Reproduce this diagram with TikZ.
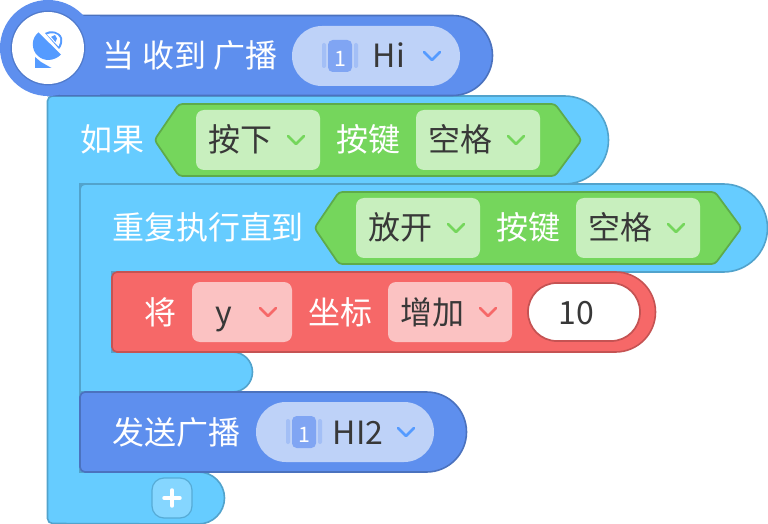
\documentclass[tikz,border=0pt]{standalone}
\usepackage{fontspec}
\setmainfont{Noto Sans CJK SC}
\definecolor{blueF}{HTML}{5E8FEE}
\definecolor{blueD}{HTML}{4B72BE}
\definecolor{blueL}{HTML}{BED2F8}
\definecolor{blueM}{HTML}{80A5F3}
\definecolor{blueB}{HTML}{A3BFF6}
\definecolor{icon}{HTML}{559BFF}
\definecolor{cyanF}{HTML}{66CCFF}
\definecolor{cyanD}{HTML}{52A3CC}
\definecolor{cyanL}{HTML}{85D6FF}
\definecolor{greenF}{HTML}{75D65C}
\definecolor{greenD}{HTML}{5EAB4A}
\definecolor{greenL}{HTML}{C8EFBE}
\definecolor{redF}{HTML}{F66868}
\definecolor{redD}{HTML}{C55353}
\definecolor{redL}{HTML}{FBC2C2}
\definecolor{ink}{HTML}{383838}
\tikzset{
  x=0.75pt,y=-0.75pt,
  wtext/.style={text=white,font=\fontsize{24}{24}\selectfont,inner sep=0pt,anchor=center,text height=21pt,text depth=3pt},
  dtext/.style={text=ink,font=\fontsize{24}{24}\selectfont,inner sep=0pt,anchor=center,text height=21pt,text depth=3pt},
  blk/.style={line width=1.2pt},
  hexa/.style={line width=1.3pt,draw=greenD,fill=greenF,rounded corners=2.5pt},
  chev/.style={line width=2pt,line cap=round,line join=round},
}
\newcommand{\fieldbox}[5]{\fill[#5,rounded corners=6pt] (#1,#2) rectangle (#3,#4);}
\newcommand{\chevron}[3]{\draw[chev,#3] (#1-8,#2-4) -- (#1,#2+4) -- (#1+8,#2-4);}
\newcommand{\broadcast}[2]{%
  \fill[blueB,rounded corners=1.5pt] (#1-18,#2-13) rectangle (#1-14,#2+12);
  \fill[blueB,rounded corners=1.5pt] (#1+14,#2-13) rectangle (#1+18,#2+12);
  \fill[blueM,rounded corners=3.5pt] (#1-12,#2-16) rectangle (#1+12,#2+16);
  \node[text=white,inner sep=0pt,font=\fontsize{16}{16}\selectfont] at (#1,#2+2.5) {1};
}
\begin{document}
\begin{tikzpicture}
\useasboundingbox (0,0) rectangle (768,524);
% outer C block
\draw[blk,fill=cyanF,draw=cyanD]
  (52.5,96) -- (564.5,96) arc[start angle=-90,end angle=90,radius=44]
  -- (80,184) -- (80,472) -- (198.5,472)
  arc[start angle=-90,end angle=90,radius=26] -- (52.5,523.5)
  arc[start angle=90,end angle=180,radius=5] -- (47.5,101)
  arc[start angle=180,end angle=270,radius=5] -- cycle;
% inner C block
\draw[blk,fill=cyanF,draw=cyanD]
  (85,184) -- (723.5,184) arc[start angle=-90,end angle=90,radius=44]
  -- (112,272) -- (112,352) -- (232.5,352)
  arc[start angle=-90,end angle=90,radius=20] -- (80,392) -- (80,189)
  arc[start angle=180,end angle=270,radius=5] -- cycle;
% hat block
\draw[blk,fill=blueF,draw=blueD]
  (80,15.5) -- (452.5,15.5) arc[start angle=-90,end angle=90,radius=40] -- (48,95.5) -- (48,48) -- cycle;
\fill[blueF] (48,48) circle[radius=48];
\fill[blueF] (60,16.5) rectangle (100,95);
\draw[blk,draw=blueD!70!blueF] (48,48) circle[radius=36.6];
\fill[white] (48,48) circle[radius=36];
% icon
\fill[icon] (35,57) -- (35,68) -- (51.5,68) -- (41,62) -- cycle;
\fill[icon] (38.5,32.5) .. controls (31,38) and (31,50) .. (38,56) .. controls (44,61.5) and (54,61.5) .. (61,54.5) -- cycle;
\fill[icon] (45,33) .. controls (50,29.5) and (60,31) .. (62,38) .. controls (63,43) and (61,47) .. (59,49) -- cycle;
\fill[white] (47,34.5) .. controls (51,32) and (58,33) .. (60,38) .. controls (60.5,41) and (60,44) .. (58.5,46.5) -- cycle;
\fill[icon] (51,37) -- (55,35) -- (57,38.5) -- (55.5,42) -- (52.5,38.5) -- cycle;
\node[wtext] (t1) at (190,56) {当 收到 广播};
\fill[blueL,rounded corners=22.4pt] (292,26) rectangle (460,86);
\broadcast{340}{56}
\node[dtext] (hi) at (389,56) {Hi};
\chevron{432}{56}{icon}
% first hexagon
\draw[hexa] (179,104) -- (555,104) -- (581.5,140) -- (555,176) -- (179,176) -- (154.5,140) -- cycle;
\node[wtext] (t2) at (112,140) {如果};
\fieldbox{196}{110}{320}{170}{greenL}
\node[dtext] (a1) at (240,140) {按下};
\chevron{296}{140}{greenF}
\node[wtext] (a2) at (368,140) {按键};
\fieldbox{416}{110}{540}{170}{greenL}
\node[dtext] (a3) at (460,140) {空格};
\chevron{516}{140}{greenF}
% second hexagon
\draw[hexa] (339,192) -- (715,192) -- (741.5,228) -- (715,264) -- (339,264) -- (314.5,228) -- cycle;
\node[wtext] (t3) at (208,228) {重复执行直到};
\fieldbox{356}{198}{480}{258}{greenL}
\node[dtext] (b1) at (400,228) {放开};
\chevron{456}{228}{greenF}
\node[wtext] (b2) at (528,228) {按键};
\fieldbox{576}{198}{700}{258}{greenL}
\node[dtext] (b3) at (620,228) {空格};
\chevron{676}{228}{greenF}
% red block
\draw[blk,fill=redF,draw=redD]
  (117,272) -- (615.5,272) arc[start angle=-90,end angle=90,radius=40] -- (117,352)
  arc[start angle=90,end angle=180,radius=5] -- (112,277)
  arc[start angle=180,end angle=270,radius=5] -- cycle;
\node[wtext] (c0) at (160,312) {将};
\fieldbox{192}{282}{292}{342}{redL}
\node[dtext] (c1) at (224,312) {y};
\chevron{268}{312}{redF}
\node[wtext] (c2) at (340,312) {坐标};
\fieldbox{388}{282}{512}{342}{redL}
\node[dtext] (c3) at (432,312) {增加};
\chevron{488}{312}{redF}
\draw[line width=1.3pt,draw=redD,fill=white,rounded corners=21.6pt] (528,283) rectangle (640,341);
\node[dtext] (c4) at (576,312) {10};
% send block
\draw[blk,fill=blueF,draw=blueD]
  (85,392) -- (426.5,392) arc[start angle=-90,end angle=90,radius=40] -- (85,472)
  arc[start angle=90,end angle=180,radius=5] -- (80,397)
  arc[start angle=180,end angle=270,radius=5] -- cycle;
\node[wtext] (d0) at (176,432) {发送广播};
\fill[blueL,rounded corners=22.4pt] (256,402) rectangle (434,462);
\broadcast{304}{432}
\node[dtext] (d1) at (358,432) {HI2};
\chevron{406}{432}{icon}
% plus button
\draw[line width=0.9pt,draw=cyanD!80!cyanF,fill=cyanL,rounded corners=9pt] (152,478) rectangle (192,518);
\draw[white,line width=2.6pt,line cap=round] (164,498) -- (180,498);
\draw[white,line width=2.6pt,line cap=round] (172,490) -- (172,506);
\end{tikzpicture}
\end{document}
